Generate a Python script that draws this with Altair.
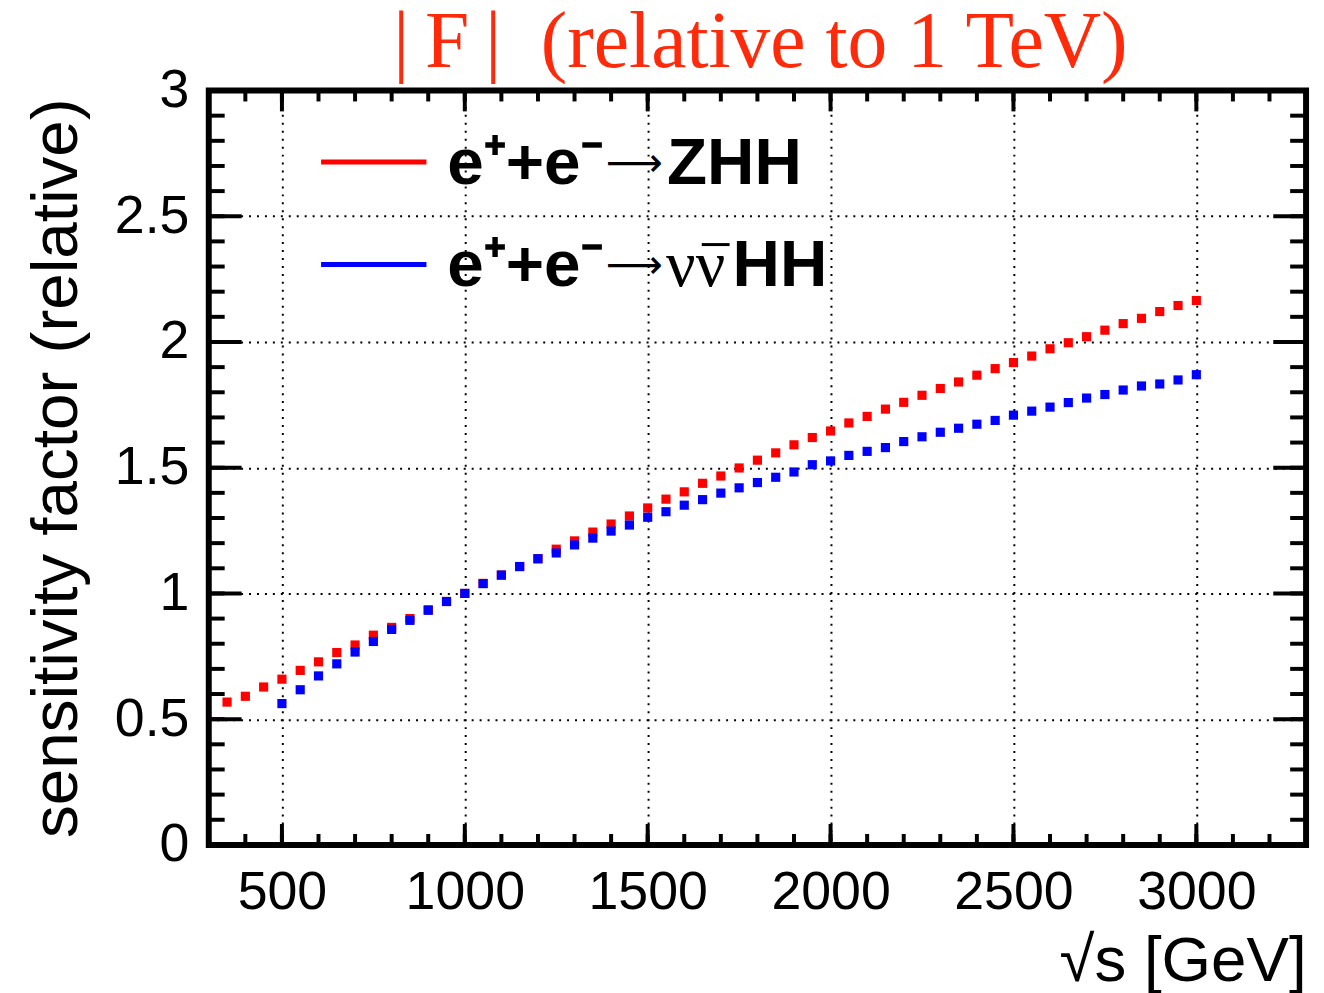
import altair as alt
import pandas as pd

# ---- data ----
sqrt_s_zhh = list(range(350, 3001, 50))
f_zhh = [0.568, 0.591, 0.628, 0.659, 0.694, 0.728, 0.765, 0.795, 0.834, 0.865,
         0.900, 0.935, 0.968, 1.000,
         1.040, 1.073, 1.107, 1.138, 1.176, 1.209, 1.244, 1.276, 1.308, 1.340,
         1.375, 1.404, 1.438, 1.467, 1.499, 1.530, 1.559, 1.591, 1.620, 1.646,
         1.678, 1.704, 1.733, 1.760, 1.788, 1.815, 1.841, 1.868, 1.894, 1.918,
         1.944, 1.973, 1.997, 2.021, 2.047, 2.073, 2.094, 2.121, 2.145, 2.165]

sqrt_s_vvhh = list(range(500, 3001, 50))
f_vvhh = [0.562, 0.617, 0.672, 0.720, 0.767, 0.809, 0.857, 0.893, 0.933, 0.968, 1.000,
          1.039, 1.073, 1.107, 1.138, 1.161, 1.193, 1.220, 1.248, 1.272, 1.303,
          1.325, 1.351, 1.373, 1.399, 1.420, 1.441, 1.462, 1.483, 1.512, 1.527,
          1.549, 1.565, 1.580, 1.604, 1.623, 1.641, 1.657, 1.673, 1.688, 1.709,
          1.725, 1.741, 1.759, 1.777, 1.791, 1.809, 1.825, 1.833, 1.849, 1.870]

# legend text pieces: initial state, arrow, final state (greek part + rest)
leg_initial = ["e\u207a+e\u207b", "e\u207a+e\u207b"]
leg_arrow = ["\u27f6", "\u27f6"]
leg_greek = ["", "\u03bd\u03bd"]
leg_final = ["ZHH", "HH"]
colors = ["#ff0000", "#0000ff"]

title_text = "|\u2009F\u2009|\u2002(relative to 1 TeV)"

x_major = [500, 1000, 1500, 2000, 2500, 3000]
x_minor = list(range(300, 3301, 100))
y_major = [0, 0.5, 1, 1.5, 2, 2.5, 3]
y_minor = [round(0.1 * i, 1) for i in range(31)]

W, H = 1104, 759
FONT = "Liberation Sans"

df_zhh = pd.DataFrame({"sqrt_s": sqrt_s_zhh, "F": f_zhh})
df_vvhh = pd.DataFrame({"sqrt_s": sqrt_s_vvhh, "F": f_vvhh})

x_scale = alt.Scale(domain=[300, 3300], nice=False, zero=False)
y_scale = alt.Scale(domain=[0, 3], nice=False, zero=False)

x_axis = alt.Axis(values=x_major, format="d", grid=True, gridColor="black",
                  gridDash=[2, 6], gridWidth=2, ticks=False, domain=False,
                  labelFont=FONT, labelFontSize=54, labelColor="black", labelPadding=21,
                  title="\u221as [GeV]", titleFont=FONT, titleFontSize=64,
                  titleFontWeight="normal", titleColor="black",
                  titleX=W, titleY=136, titleAlign="right", titleBaseline="alphabetic")
y_axis = alt.Axis(values=y_major, format="~g", grid=True, gridColor="black",
                  gridDash=[2, 6], gridWidth=2, ticks=False, domain=False,
                  labelFont=FONT, labelFontSize=54, labelColor="black", labelPadding=20,
                  title="sensitivity factor (relative)", titleFont=FONT, titleFontSize=66,
                  titleFontWeight="normal", titleColor="black", titleAngle=270,
                  titleX=-133, titleY=H / 2, titleAlign="center", titleBaseline="alphabetic")

X = alt.X("sqrt_s:Q", scale=x_scale, axis=x_axis)
Y = alt.Y("F:Q", scale=y_scale, axis=y_axis)

red = alt.Chart(df_zhh).mark_square(size=85, opacity=1).encode(
    x=X, y=Y, color=alt.value(colors[0]))
blue = alt.Chart(df_vvhh).mark_square(size=85, opacity=1).encode(
    x=X, y=Y, color=alt.value(colors[1]))


def xticks(vals, length):
    d = pd.DataFrame({"sqrt_s": vals})
    bottom = alt.Chart(d).mark_rule(color="black", strokeWidth=4, strokeCap="butt").encode(
        x=X, y=alt.value(H), y2=alt.value(H - length))
    top = alt.Chart(d).mark_rule(color="black", strokeWidth=4, strokeCap="butt").encode(
        x=X, y=alt.value(0), y2=alt.value(length))
    return [bottom, top]


def yticks(vals, length):
    d = pd.DataFrame({"F": vals})
    left = alt.Chart(d).mark_rule(color="black", strokeWidth=4, strokeCap="butt").encode(
        y=Y, x=alt.value(0), x2=alt.value(length))
    right = alt.Chart(d).mark_rule(color="black", strokeWidth=4, strokeCap="butt").encode(
        y=Y, x=alt.value(W), x2=alt.value(W - length))
    return [left, right]


tick_layers = xticks(x_minor, 11) + xticks(x_major, 21) + yticks(y_minor, 16) + yticks(y_major, 33)

leg_layers = []
leg_y_line = [72, 175]
leg_y_text = [94, 197]
for i in range(2):
    d = pd.DataFrame({"initial": [leg_initial[i]], "arrow": [leg_arrow[i]],
                      "greek": [leg_greek[i]], "final": [leg_final[i]]})
    leg_layers.append(alt.Chart(d).mark_rule(color=colors[i], strokeWidth=5, strokeCap="butt").encode(
        x=alt.value(113), x2=alt.value(219), y=alt.value(leg_y_line[i])))
    leg_layers.append(alt.Chart(d).mark_text(
        font=FONT, fontSize=66, fontWeight="bold", color="black",
        align="left", baseline="alphabetic").encode(
        x=alt.value(240), y=alt.value(leg_y_text[i]), text="initial:N"))
    leg_layers.append(alt.Chart(d).mark_text(
        font="DejaVu Sans", fontSize=40, fontWeight="normal", color="black",
        align="center", baseline="middle").encode(
        x=alt.value(428), y=alt.value(leg_y_line[i] + 2), text="arrow:N"))
    fx = 461
    if leg_greek[i]:
        leg_layers.append(alt.Chart(d).mark_text(
            font="Liberation Serif", fontSize=66, fontWeight="normal", color="black",
            align="left", baseline="alphabetic").encode(
            x=alt.value(460), y=alt.value(leg_y_text[i]), text="greek:N"))
        # bar over the second nu (antineutrino)
        leg_layers.append(alt.Chart(d).mark_rule(color="black", strokeWidth=3, strokeCap="butt").encode(
            x=alt.value(496), x2=alt.value(524), y=alt.value(leg_y_text[i] - 42)))
        fx = 527
    leg_layers.append(alt.Chart(d).mark_text(
        font=FONT, fontSize=66, fontWeight="bold", color="black",
        align="left", baseline="alphabetic").encode(
        x=alt.value(fx), y=alt.value(leg_y_text[i]), text="final:N"))

title_df = pd.DataFrame({"t": [title_text]})
title_layer = alt.Chart(title_df).mark_text(
    font="Liberation Serif", fontSize=80, fontWeight="normal", color="#ff2a0a",
    align="center", baseline="alphabetic").encode(
    x=alt.value(W / 2 + 3), y=alt.value(-24), text="t:N")

chart = alt.layer(red, blue, *tick_layers, *leg_layers, title_layer).properties(
    width=W, height=H,
    autosize=alt.AutoSizeParams(type="none"),
    padding={"left": 202, "top": 80, "right": 10, "bottom": 150},
).configure_view(stroke="black", strokeWidth=6)

chart.save("out.html", embed_options={"renderer": "svg", "actions": False})
